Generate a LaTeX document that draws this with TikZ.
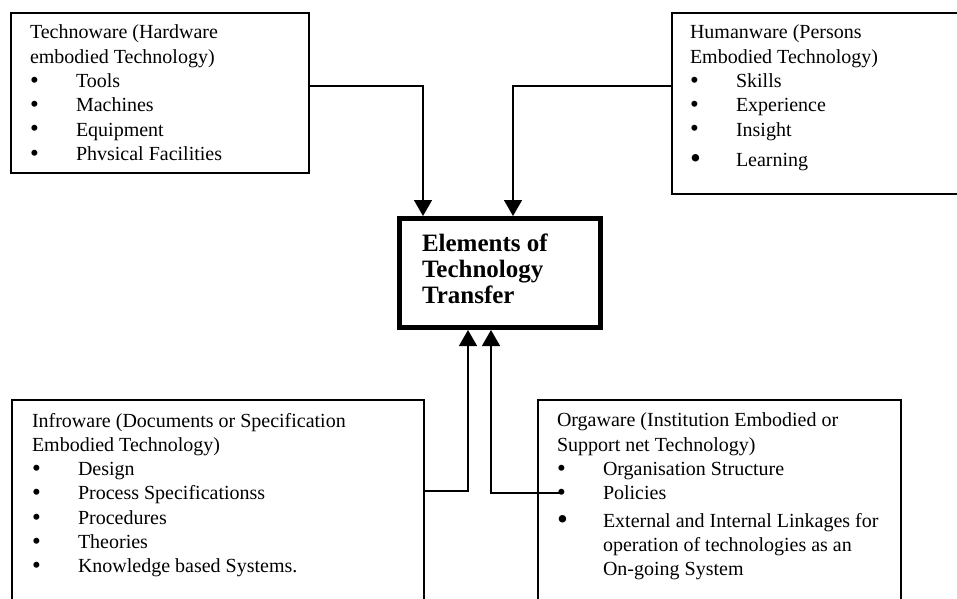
\documentclass[tikz,border=0pt]{standalone}
\usepackage{fontspec}
\setmainfont{Liberation Serif}
\usepackage{tikz}
\usetikzlibrary{arrows.meta}
\usetikzlibrary{calc}
\usetikzlibrary{positioning}
\tikzstyle{box} = [draw, line width=1.5pt, inner sep=0pt, anchor=north west]
\tikzstyle{boxtext} = [align=left, inner sep=0pt, outer sep=0pt, anchor=north west,
    font=\fontsize{20}{24.3}\selectfont]
\tikzstyle{mainbox} = [draw, line width=5pt, minimum width=201pt, minimum height=109pt]
\newcommand{\itm}[1]{\makebox[46pt][l]{\raisebox{-0.8pt}{\fontsize{25}{20}\selectfont\textbullet}}#1}
\newcommand{\bigitm}[1]{\makebox[46pt][l]{\raisebox{-2pt}{\fontsize{31}{20}\selectfont\textbullet}}#1}

\begin{document}
\begin{tikzpicture}[x=1pt, y=-1pt, >={Triangle[length=16pt, width=18pt]}, line width=1.5pt]

    \path[use as bounding box] (0,0) rectangle (957,598);
    \clip (0,0) rectangle (957,598);

    % the four kinds of technology
    \node[box, minimum width=298pt, minimum height=160pt] at (10,12) (techno) {};
    \node[boxtext] at ([shift={(20pt,-13pt)}]techno.north west) (technolist)
        {Technoware (Hardware\\embodied Technology)\\\itm{Tools}\\\itm{Machines}\\\itm{Equipment}\\\itm{Phvsical Facilities}};

    \node[box, minimum width=310pt, minimum height=181pt] at (671,12) (human) {};
    \node[boxtext] at ([shift={(19pt,-13pt)}]human.north west) (humanlist)
        {Humanware (Persons\\Embodied Technology)\\\itm{Skills}\\\itm{Experience}\\\itm{Insight}\\[6pt]\bigitm{Learning}};

    \node[box, minimum width=412pt, minimum height=230pt] at (11,399) (info) {};
    \node[boxtext] at ([shift={(21pt,-14pt)}]info.north west) (infolist)
        {Infroware (Documents or Specification\\Embodied Technology)\\\itm{Design}\\\itm{Process Specificationss}\\\itm{Procedures}\\\itm{Theories}\\\itm{Knowledge based Systems.}};

    \node[box, minimum width=363pt, minimum height=230pt] at (537,399) (orga) {};
    \node[boxtext] at ([shift={(20pt,-14pt)}]orga.north west) (orgalist)
        {Orgaware (Institution Embodied or\\Support net Technology)\\\itm{Organisation Structure}\\\itm{Policies}\\[3pt]\bigitm{External and Internal Linkages for}\\\hspace*{46pt}operation of technologies as an\\\hspace*{46pt}On-going System};
    \coordinate (policies) at ([shift={(24pt,-94pt)}]orga.north west);

    % centre block
    \node[mainbox] at (500,273) (elements) {};
    \node[boxtext, font=\bfseries\fontsize{25}{26}\selectfont] at ([shift={(25pt,-18pt)}]elements.north west) (elementstext)
        {Elements of\\Technology\\Transfer};

    \draw[->] ([yshift=7pt]techno.east) -| ([xshift=-77pt]elements.north);
    \draw[->] ([yshift=17.5pt]human.west) -| ([xshift=13pt]elements.north);
    \draw[->] ([yshift=24pt]info.east) -| ([xshift=-32pt]elements.south);
    \draw[->] (policies) -| ([xshift=-9pt]elements.south);
\end{tikzpicture}
\end{document}
